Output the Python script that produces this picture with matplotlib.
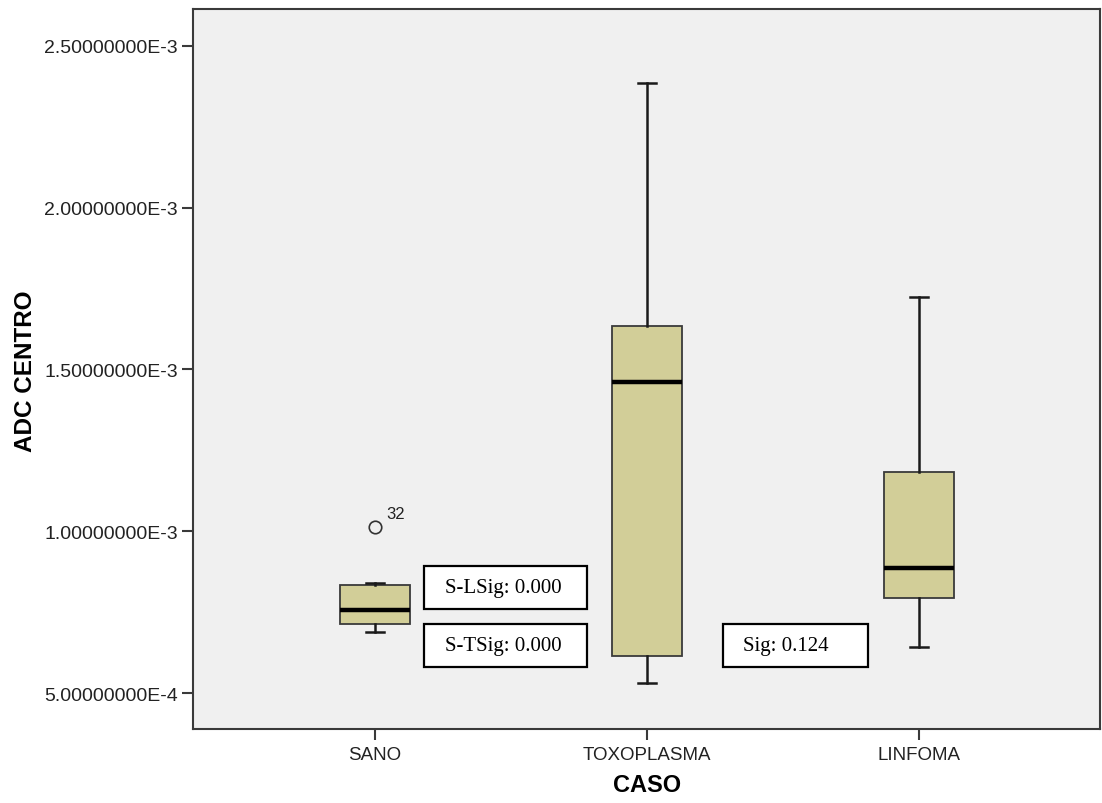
import matplotlib
matplotlib.use("Agg")
import matplotlib.pyplot as plt
from matplotlib.patches import Rectangle
from matplotlib.ticker import FuncFormatter

# Datos
casos = ["SANO", "TOXOPLASMA", "LINFOMA"]
whislo = [6.88e-4, 5.31e-4, 6.42e-4]
q1 = [7.13e-4, 6.14e-4, 7.93e-4]
med = [7.56e-4, 1.46e-3, 8.86e-4]
q3 = [8.33e-4, 1.633e-3, 1.182e-3]
whishi = [8.40e-4, 2.386e-3, 1.725e-3]
atipicos = [[1.012e-3], [], []]
etiq_atipicos = [["32"], [], []]
yticks = [5e-4, 1e-3, 1.5e-3, 2e-3, 2.5e-3]
cajas_sig = ["S-LSig: 0.000", "S-TSig: 0.000", "Sig: 0.124"]

def fmt_e(v, pos):
    s = "%.8E" % v
    m, e = s.split("E")
    return "%sE%d" % (m, int(e))

stats = []
for i in range(len(casos)):
    stats.append(dict(label=casos[i], whislo=whislo[i], q1=q1[i], med=med[i],
                      q3=q3[i], whishi=whishi[i], fliers=atipicos[i]))

fig = plt.figure(figsize=(11.02, 8.04), dpi=100)
ax = fig.add_axes([0.1751, 0.0920, 0.8231, 0.8956])
ax.set_facecolor("#F0F0F0")

pos = [1, 2, 3]
ax.bxp(stats, positions=pos, widths=0.255, patch_artist=True, capwidths=0.066,
       boxprops=dict(facecolor="#D2CE98", edgecolor="#3a3a3a", linewidth=1.3),
       medianprops=dict(color="black", linewidth=3.2),
       whiskerprops=dict(color="#1a1a1a", linewidth=1.8),
       capprops=dict(color="#1a1a1a", linewidth=1.8),
       flierprops=dict(marker="o", markerfacecolor="none", markeredgecolor="#333333",
                       markersize=9, markeredgewidth=1.2))

for i in range(len(casos)):
    for v, t in zip(atipicos[i], etiq_atipicos[i]):
        ax.annotate(t, (pos[i], v), xytext=(8, 7), textcoords="offset points",
                    fontsize=12, color="#222222", family="Liberation Sans")

ax.set_xlim(0.331, 3.665)
ax.set_ylim(3.887e-4, 2.614e-3)
ax.set_yticks(yticks)
ax.yaxis.set_major_formatter(FuncFormatter(fmt_e))
ax.set_xticks(pos)
ax.set_xticklabels(casos)

for s in ax.spines.values():
    s.set_color("#3a3a3a")
    s.set_linewidth(1.5)
ax.tick_params(axis="both", direction="out", length=8, width=1.5, color="#3a3a3a")
ax.tick_params(axis="y", labelsize=14, pad=3)
ax.tick_params(axis="x", labelsize=13.5, pad=4)
for lab in ax.get_xticklabels() + ax.get_yticklabels():
    lab.set_family("Liberation Sans")
    lab.set_color("#222222")

fig.text(0.0227, 0.5386, "ADC CENTRO", rotation=90, ha="center", va="center",
         fontsize=17.5, fontweight="bold", family="Liberation Sans")
fig.text(0.587, 0.0236, "CASO", ha="center", va="center",
         fontsize=17, fontweight="bold", family="Liberation Sans")

# Cajas de significacion
rects = [(0.2547, 0.1667, 0.1797, 0.0597),
         (0.2547, 0.0861, 0.1797, 0.0597),
         (0.5843, 0.0861, 0.1599, 0.0597)]
txt_x = [0.2778, 0.2778, 0.6064]
for (x0, y0, w, h), tx, t in zip(rects, txt_x, cajas_sig):
    ax.add_patch(Rectangle((x0, y0), w, h, transform=ax.transAxes, facecolor="white",
                           edgecolor="black", linewidth=1.6, zorder=5))
    ax.text(tx, y0 + h / 2, t, transform=ax.transAxes, ha="left", va="center",
            fontsize=15, family="Liberation Serif", zorder=6)

fig.savefig("out.png", dpi=100)
